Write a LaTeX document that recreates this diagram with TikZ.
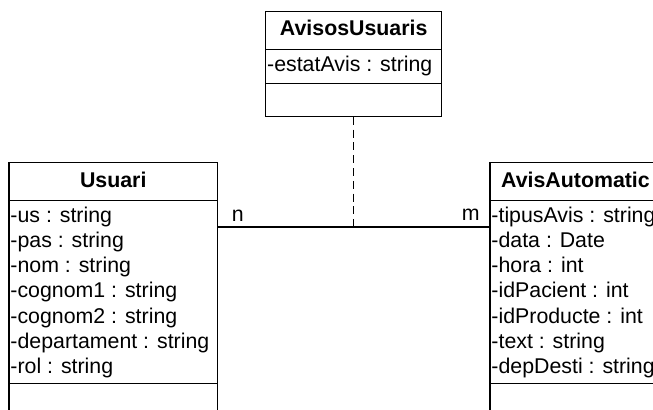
\documentclass[tikz,border=0pt]{standalone}
\usepackage{fontspec}
\setmainfont{Liberation Sans}
\begin{document}
\begin{tikzpicture}[x=0.75pt,y=-0.75pt,
  comp/.style={draw=black,line width=0.9pt,rectangle,inner sep=0pt,outer sep=0pt,anchor=north west,fill=white},
  ttl/.style={font=\fontsize{16pt}{19pt}\selectfont\bfseries,inner sep=0pt,anchor=base},
  attr/.style={font=\fontsize{16pt}{19pt}\selectfont,inner sep=0pt,anchor=base west},
  mult/.style={font=\fontsize{16pt}{19pt}\selectfont,inner sep=0pt,anchor=base west},
  assoc/.style={draw=black,line width=0.9pt},
  assocdash/.style={draw=black,line width=0.9pt,dash pattern=on 6pt off 3.6pt}]
\useasboundingbox (0,0) rectangle (653,410);
\clip (0,0) rectangle (653,410);
\fill[white] (0,0) rectangle (653,410);
\coordinate (mid) at (353.7,227);
% Usuari
\node[comp,minimum width=156.4pt,minimum height=28.5pt] (usH) at (9,162.5) {};
\node[comp,minimum width=156.4pt,minimum height=137.25pt] (usA) at (9,200.5) {};
\node[comp,minimum width=156.4pt,minimum height=27pt] (usM) at (9,383.5) {};
\node[ttl] (usT) at (113.25,187.7) {Usuari};
\foreach \t [count=\i from 0] in {-us : string,-pas : string,-nom : string,-cognom1 : string,-cognom2 : string,-departament : string,-rol : string}
  \node[attr] (usa\i) at (10.2,222+25.25*\i) {\t};
% AvisAutomatic
\node[comp,minimum width=128.25pt,minimum height=28.5pt] (avH) at (490,162.5) {};
\node[comp,minimum width=128.25pt,minimum height=137.25pt] (avA) at (490,200.5) {};
\node[comp,minimum width=128.25pt,minimum height=27pt] (avM) at (490,383.5) {};
\node[ttl] (avT) at (575.5,187.7) {AvisAutomatic};
\foreach \t [count=\i from 0] in {-tipusAvis : string,-data : Date,-hora : int,-idPacient : int,-idProducte : int,-text : string,-depDesti : string}
  \node[attr] (ava\i) at (491.2,222+25.25*\i) {\t};
% AvisosUsuaris
\node[comp,minimum width=132pt,minimum height=28.5pt] (auH) at (265.7,11.5) {};
\node[comp,minimum width=132pt,minimum height=25.5pt] (auA) at (265.7,49.5) {};
\node[comp,minimum width=132pt,minimum height=25pt] (auM) at (265.7,83.5) {};
\node[ttl] (auT) at (353.7,35.7) {AvisosUsuaris};
\node[attr] (aua0) at (266.9,71.7) {-estatAvis : string};
% association
\draw[assoc] (mid -| usA.east) -- (mid -| avA.west);
\draw[assocdash] (auM.south) -- (mid);
\node[mult] (mn) at (231.5,221.7) {n};
\node[mult] (mm) at (461.5,220.5) {m};
\end{tikzpicture}
\end{document}
